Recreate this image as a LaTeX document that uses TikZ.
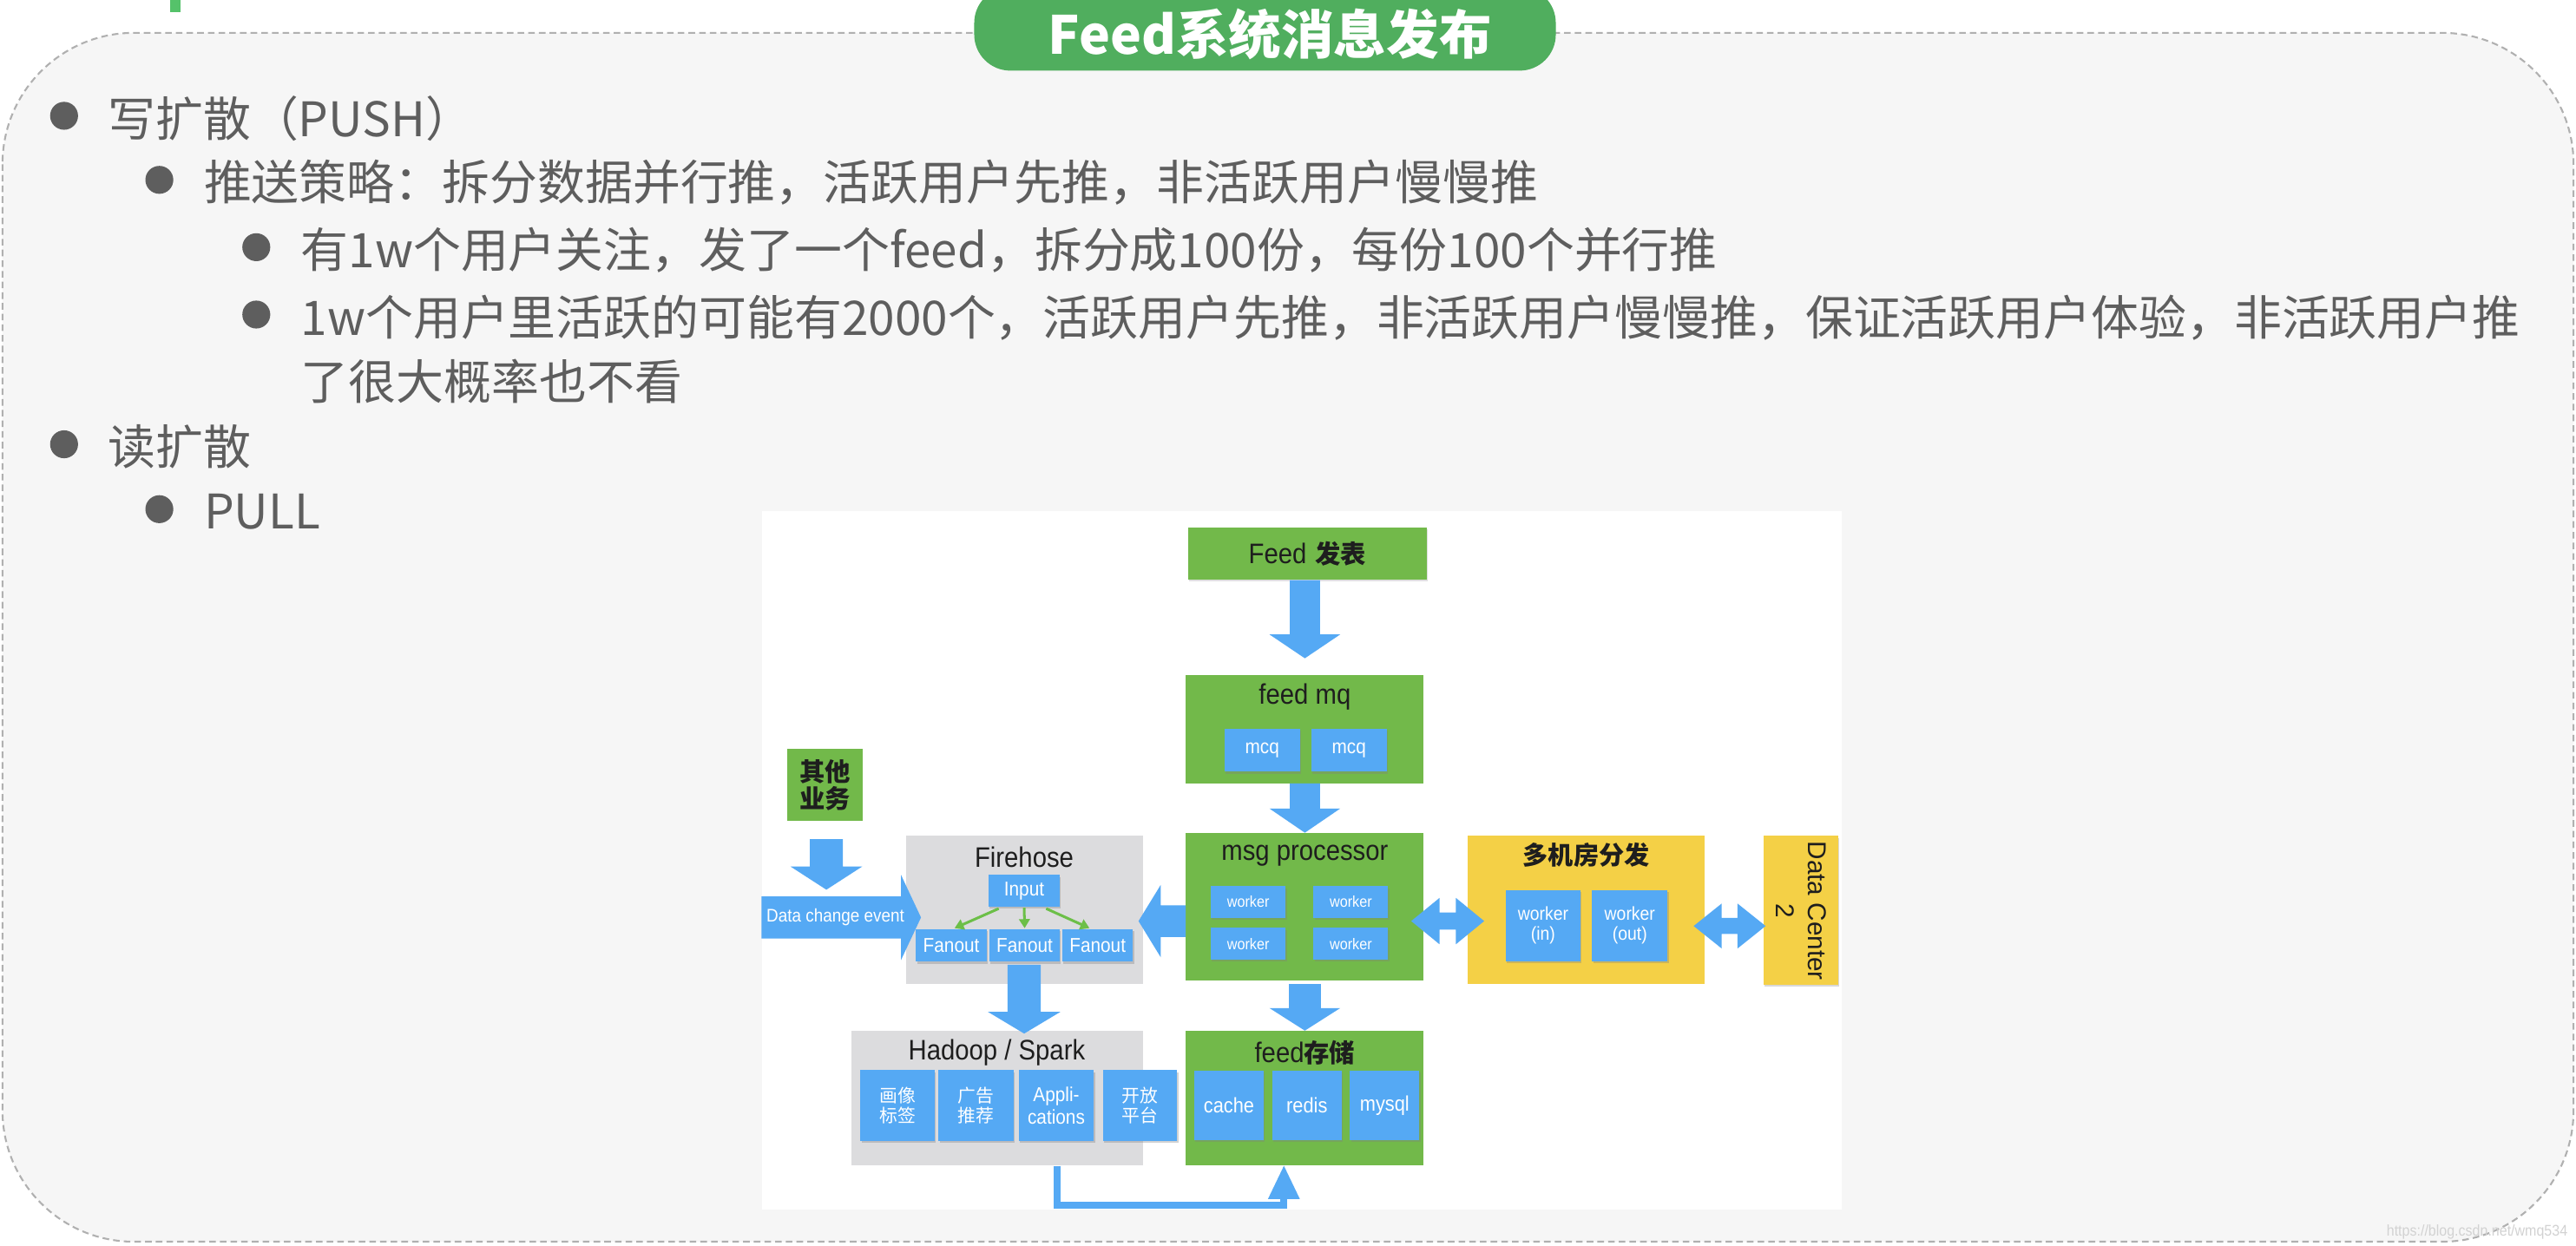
\documentclass[tikz,border=0pt]{standalone}
\usepackage{fontspec}
\usetikzlibrary{calc,shadows,arrows.meta}
\newfontfamily\zh{Noto Sans CJK SC}
\newfontfamily\lat{Liberation Sans}
\newfontfamily\latc{Liberation Sans}[FakeStretch=0.9]
\definecolor{dgreen}{HTML}{72B94A}
\definecolor{dblue}{HTML}{55A9F4}
\definecolor{dgray}{HTML}{DCDCDE}
\definecolor{dyellow}{HTML}{F4D046}
\definecolor{ggreen}{HTML}{6CBF48}
\definecolor{pillgreen}{HTML}{50AE5E}
\definecolor{panelfill}{HTML}{F6F6F6}
\definecolor{panelline}{HTML}{B0B0B0}
\definecolor{bodyc}{HTML}{5E5E5E}
\definecolor{titc}{HTML}{1E1E1E}
\definecolor{topgreen}{HTML}{55C26A}
\definecolor{wmark}{HTML}{D2D2D2}
\colorlet{ablue}{dblue}
\newcommand{\bx}[7]{\node[#2, minimum width={#5-#3}, minimum height={#6-#4}] (#1) at ({(#3+#5)/2},{-(#4+#6)/2}) {#7};}
\newcommand{\fatdown}[5]{\fill[ablue] let \p1=#1, \p2=#2 in (\x2-#3pt,\y1) -- (\x2+#3pt,\y1) -- (\x2+#3pt,\y2+#5pt) -- (\x2+#4pt,\y2+#5pt) -- (\x2,\y2) -- (\x2-#4pt,\y2+#5pt) -- (\x2-#3pt,\y2+#5pt) -- cycle;}
\newcommand{\fatright}[5]{\fill[ablue] let \p1=#1, \p2=#2 in (\x1,\y2-#3pt) -- (\x2-#5pt,\y2-#3pt) -- (\x2-#5pt,\y2-#4pt) -- (\x2,\y2) -- (\x2-#5pt,\y2+#4pt) -- (\x2-#5pt,\y2+#3pt) -- (\x1,\y2+#3pt) -- cycle;}
\newcommand{\fatleft}[5]{\fill[ablue] let \p1=#1, \p2=#2 in (\x1,\y2-#3pt) -- (\x2+#5pt,\y2-#3pt) -- (\x2+#5pt,\y2-#4pt) -- (\x2,\y2) -- (\x2+#5pt,\y2+#4pt) -- (\x2+#5pt,\y2+#3pt) -- (\x1,\y2+#3pt) -- cycle;}
\newcommand{\fatboth}[5]{\fill[ablue] let \p1=#1, \p2=#2 in (\x1,\y1) -- (\x1+#5pt,\y1+#4pt) -- (\x1+#5pt,\y1+#3pt) -- (\x2-#5pt,\y1+#3pt) -- (\x2-#5pt,\y1+#4pt) -- (\x2,\y1) -- (\x2-#5pt,\y1-#4pt) -- (\x2-#5pt,\y1-#3pt) -- (\x1+#5pt,\y1-#3pt) -- (\x1+#5pt,\y1-#4pt) -- cycle;}
\begin{document}
\begin{tikzpicture}[x=1pt,y=1pt,
  body/.style={anchor=base west, inner sep=0pt, text=bodyc, font=\zh\fontsize{29}{35}\selectfont},
  dot/.style={circle, fill=bodyc, minimum size=17pt, inner sep=0pt},
  gbox/.style={fill=dgreen, inner sep=0pt},
  graybox/.style={fill=dgray, inner sep=0pt},
  ybox/.style={fill=dyellow, inner sep=0pt},
  bbox/.style={fill=dblue, inner sep=0pt, text=white, align=center,
    drop shadow={shadow xshift=0.7pt, shadow yshift=-1.3pt, opacity=0.35}},
  ttl/.style={inner sep=0pt, text=titc, align=center, font=\latc\fontsize{17.2}{19}\selectfont},
  sm/.style={font=\latc\fontsize{12.2}{13.5}\selectfont},
  smz/.style={font=\zh\fontsize{11}{11.8}\selectfont},
  wk/.style={font=\latc\fontsize{9.5}{10.5}\selectfont},
  garrow/.style={draw=ggreen, line width=1.6pt, -{Triangle[length=5.5pt,width=6.5pt]}}
]
\useasboundingbox (0,0) rectangle (1568,-758.6);
\clip (0,0) rectangle (1568,-758.6);
\fill[white] (0,0) rectangle (1568,-758.6);
% panel
\draw[fill=panelfill, draw=panelline, line width=1.1pt, dash pattern=on 4pt off 2.5pt, rounded corners=80pt] (1.5,-20) rectangle (1566.5,-756);
% top-left fragment
\fill[topgreen] (103.4,0) rectangle (110,-7.4);
% title pill
\fill[pillgreen, rounded corners=22pt] (593,8) rectangle (947,-43);
\node[inner sep=0pt, text=white, font=\zh\bfseries\fontsize{32}{36}\selectfont] (title) at (773,-21) {Feed系统消息发布};
% bullets
\node[dot] (b1) at (39,-70.5) {};
\node[body] (t1) at (65.5,-83) {写扩散（PUSH）};
\node[dot] (b2) at (97,-109.5) {};
\node[body] (t2) at (124,-122) {推送策略：拆分数据并行推，活跃用户先推，非活跃用户慢慢推};
\node[dot] (b3) at (156,-150.5) {};
\node[body] (t3) at (183,-163) {有1w个用户关注，发了一个feed，拆分成100份，每份100个并行推};
\node[dot] (b4) at (156,-191.5) {};
\node[body] (t4) at (183,-204) {1w个用户里活跃的可能有2000个，活跃用户先推，非活跃用户慢慢推，保证活跃用户体验，非活跃用户推};
\node[body] (t5) at (183,-243.5) {了很大概率也不看};
\node[dot] (b6) at (39,-270.5) {};
\node[body] (t6) at (65.5,-283) {读扩散};
\node[dot] (b7) at (97,-310) {};
\node[body] (t7) at (124,-322) {PULL};
% diagram background
\bx{bg}{fill=white, inner sep=0pt}{463.7}{311.3}{1121}{736.4}{}
% boxes
\bx{feed}{gbox, text=titc, font=\fontsize{17.2}{19}\selectfont, drop shadow={shadow xshift=0.5pt, shadow yshift=-1pt, opacity=0.25}}{723.3}{321.4}{868.3}{353}{{\latc Feed} {\zh\bfseries\fontsize{15.5}{18}\selectfont 发表}}
\bx{mq}{gbox}{721.9}{410.8}{866.6}{476.8}{}
\node[ttl] (mqt) at (794.25,-424) {feed mq};
\bx{mcq1}{bbox, sm}{745.4}{443.7}{791.2}{469.7}{mcq}
\bx{mcq2}{bbox, sm}{798.2}{443.7}{844}{469.7}{mcq}
\bx{msg}{gbox}{721.9}{507.2}{866.6}{596.9}{}
\node[ttl] (msgt) at (794.25,-521) {msg processor};
\bx{w1}{bbox, wk}{737}{539.5}{782.5}{558.7}{worker}
\bx{w2}{bbox, wk}{799.5}{539.5}{845}{558.7}{worker}
\bx{w3}{bbox, wk}{737}{565}{782.5}{584.2}{worker}
\bx{w4}{bbox, wk}{799.5}{565}{845}{584.2}{worker}
\bx{other}{gbox, text=titc, align=center, font=\zh\bfseries\fontsize{15.5}{16.7}\selectfont}{479.4}{456}{524.9}{500}{其他\\业务}
\bx{fire}{graybox}{551.3}{508.9}{695.5}{599}{}
\node[ttl] (firet) at (623.4,-522) {Firehose};
\bx{inp}{bbox, sm}{601.7}{532.7}{645.1}{552}{Input}
\bx{fo1}{bbox, sm}{557.5}{565.8}{600.6}{585.5}{Fanout}
\bx{fo2}{bbox, sm}{602.3}{565.8}{645.1}{585.5}{Fanout}
\bx{fo3}{bbox, sm}{646.7}{565.8}{689.6}{585.5}{Fanout}
\bx{hadoop}{graybox}{518.2}{627.7}{695.5}{709.6}{}
\node[ttl] (hadoopt) at (606.7,-641) {Hadoop / Spark};
\bx{h1}{bbox, smz}{523.8}{651.5}{568.8}{694.6}{画像\\标签}
\bx{h2}{bbox, smz}{571.3}{651.5}{616.8}{694.6}{广告\\推荐}
\bx{h3}{bbox, sm}{620}{651.5}{665.9}{694.6}{Appli-\\cations}
\bx{h4}{bbox, smz}{671.2}{651.5}{716.5}{694.6}{开放\\平台}
\bx{store}{gbox}{721.9}{627.7}{866.6}{709.6}{}
\node[ttl] (storet) at (794.25,-641) {feed{\zh\bfseries\fontsize{15.5}{18}\selectfont 存储}};
\bx{s1}{bbox, font=\latc\fontsize{12.8}{14}\selectfont}{727}{651.8}{769.1}{694.1}{cache}
\bx{s2}{bbox, font=\latc\fontsize{12.8}{14}\selectfont}{774.5}{651.8}{816.5}{694.1}{redis}
\bx{s3}{bbox, font=\latc\fontsize{12.8}{14}\selectfont}{821.6}{651.8}{864}{694.1}{mysql}
\bx{multi}{ybox}{893.4}{508.9}{1037.6}{599.2}{}
\node[ttl, font=\zh\bfseries\fontsize{15.4}{18}\selectfont] (multit) at (965.5,-520.4) {多机房分发};
\bx{win}{bbox, font=\latc\fontsize{11.4}{12.2}\selectfont}{916.6}{541.8}{961.9}{585.1}{worker\\(in)}
\bx{wout}{bbox, font=\latc\fontsize{11.4}{12.2}\selectfont}{969.1}{541.8}{1015}{585.1}{worker\\(out)}
\bx{dc}{ybox, drop shadow={shadow xshift=0.5pt, shadow yshift=-1.2pt, opacity=0.3}}{1073.5}{509}{1119}{599.6}{}
\node[inner sep=0pt, rotate=-90, align=center, text=titc, font=\lat\fontsize{15.7}{19.5}\selectfont] (dct) at (1096.3,-554.6) {Data Center\\2};
% fat arrows
\fatdown{(feed.south)}{($(mq.north)+(0,9.8)$)}{9.2}{21.5}{14.5}
\fatdown{(mq.south)}{(msg.north)}{9.2}{21.5}{14.7}
\fatdown{($(msg.south)+(0,-2)$)}{(store.north)}{9.7}{21.5}{13.7}
\fatdown{($(other.south)+(0,-10.7)$)}{($(other.south)+(0.85,-41.5)$)}{10.1}{21.8}{14.1}
\fatright{(bg.west)}{($(fire.west)+(9.5,-4.65)$)}{12.75}{26}{12.2}
\node[inner sep=0pt, text=white, font=\latc\fontsize{11.1}{12}\selectfont] (dce) at (508.5,-558.6) {Data change event};
\fatleft{(msg.west)}{($(fire.east)+(-2.7,-6.85)$)}{9.65}{22}{13.5}
\fatdown{($(fire.south)+(0,11.8)$)}{($(fire.south |- hadoop.north)+(0,-1.8)$)}{10.1}{22}{13.2}
\fatboth{($(msg.east)+(-7.8,-8.75)$)}{($(multi.west)+(10.2,0)$)}{5.25}{14.1}{17.2}
\fatboth{($(multi.east)+(-6.9,-9.75)$)}{($(dc.west)+(1.4,0)$)}{4.9}{13.7}{17.1}
% green arrows in firehose
\draw[garrow] ($(inp.south)+(-15.5,-1)$) -- ($(fo1.north)+(2,0.5)$);
\draw[garrow] ($(inp.south)+(0,-0.5)$) -- ($(fo2.north)+(0,0.5)$);
\draw[garrow] ($(inp.south)+(13.4,-1)$) -- ($(fo3.north)+(-5,0.5)$);
% hadoop -> feed storage connector
\coordinate (hs) at ($(hadoop.south)+(36.65,0)$);
\coordinate (sb) at ($(store.south)+(-12.75,0)$);
\draw[ablue, line width=4.2pt, line join=miter] (hs) -- ++(0,-24.2) -| ($(sb)+(0,-19)$);
\fill[ablue] ($(sb)+(-9.7,-20.2)$) -- (sb) -- ($(sb)+(9.7,-20.2)$) -- cycle;
% watermark
\node[anchor=base east, inner sep=0pt, text=wmark, font=\latc\fontsize{9.4}{10}\selectfont] (wm) at (1563,-752.5) {https://blog.csdn.net/wmq534};
\end{tikzpicture}
\end{document}
